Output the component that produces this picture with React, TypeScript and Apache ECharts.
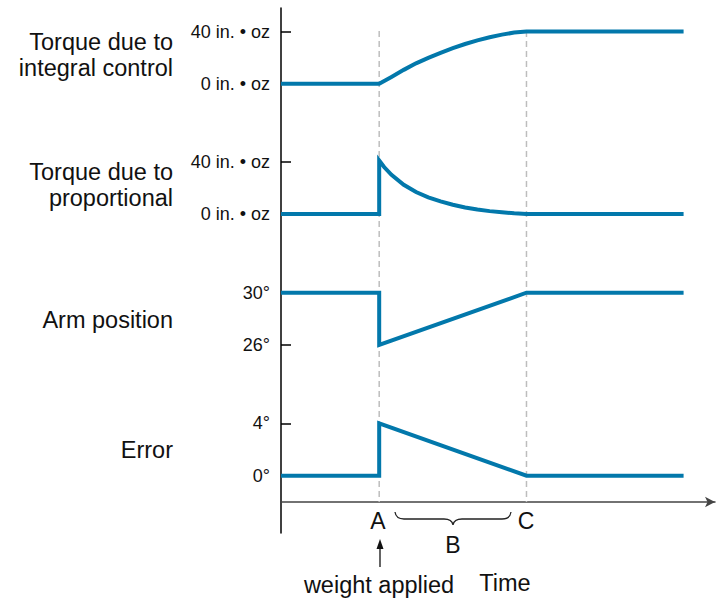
import React, { useEffect, useRef } from "react";
import * as echarts from "echarts";

// Shared time axis (arbitrary units): A = 2, C = 5
const timeMax = 8.84;
const eventA = 2;
const eventC = 5;

const integralTime = [0, 2, 2.25, 2.5, 2.75, 3.0, 3.25, 3.5, 3.75, 4.0, 4.25, 4.5, 4.75, 5.0, 8.2];
const integralTorque = [0, 0, 5.2, 10.6, 15.6, 19.8, 23.6, 27.2, 30.4, 33.2, 35.6, 37.6, 39.2, 40, 40];

const propTime = [0, 2, 2, 2.1, 2.25, 2.5, 2.75, 3.0, 3.25, 3.5, 3.75, 4.0, 4.25, 4.5, 4.75, 5.0, 8.2];
const propTorque = [0, 0, 41, 36, 30, 22.4, 16.8, 12.8, 9.7, 7.1, 5.0, 3.4, 2.2, 1.3, 0.5, 0, 0];

const armTime = [0, 2, 2, 5, 8.2];
const armPosition = [30, 30, 26, 30, 30];

const errorTime = [0, 2, 2, 5, 8.2];
const errorDeg = [0, 0, 4, 0, 0];

const torqueTicks = [0, 40];
const armTicks = [26, 30];
const errorTicks = [0, 4];

const panelLabels = [
  { text: "Torque due to\nintegral control", y: 55 },
  { text: "Torque due to\nproportional", y: 185 },
  { text: "Arm position", y: 320 },
  { text: "Error", y: 450 },
];

const BLUE = "#0278ab";
const FONT = "'Liberation Sans', Arial, Helvetica, sans-serif";

const zip = (xs: number[], ys: number[]) => xs.map((x, i) => [x, ys[i]]);

export default function App() {
  const ref = useRef<HTMLDivElement>(null);
  useEffect(() => {
    if (!ref.current) return;
    echarts.graphic.registerShape(
      "brace",
      echarts.graphic.extendPath(
        "M395,512 Q396,519 404,519 L444,519 Q452,519 453,525 Q454,519 462,519 L502,519 Q510,519 511,512",
        {}
      )
    );
    const chart = echarts.init(ref.current, null, { renderer: "svg" });

    const L = 281;
    const R = 2;
    const grids: any[] = [
      { top: 31.5, bottom: 83.7 },
      { top: 161.8, bottom: 214 },
      { top: 292.7, bottom: 345 },
      { top: 423.3, bottom: 475.7 },
    ].map((g) => ({
      left: L,
      right: R,
      top: g.top,
      height: g.bottom - g.top,
      containLabel: false,
      outerBoundsMode: "none",
    }));
    grids.push({
      left: L,
      right: R,
      top: 8,
      height: 525,
      containLabel: false,
      outerBoundsMode: "none",
    });

    const mkY = (idx: number, min: number, max: number, ticks: number[], fmt: (v: number) => string) => ({
      type: "value",
      gridIndex: idx,
      min,
      max,
      splitLine: { show: false },
      axisLine: { show: false },
      axisTick: {
        show: true,
        inside: true,
        length: 10,
        customValues: ticks,
        lineStyle: { color: "#000", width: 1.5 },
      },
      axisLabel: {
        show: true,
        customValues: ticks,
        formatter: fmt,
        margin: 11,
        fontSize: 18,
        color: "#111",
        fontFamily: FONT,
      },
    });

    const mkX = (idx: number) => ({
      type: "value",
      gridIndex: idx,
      min: 0,
      max: timeMax,
      show: false,
    });

    const torqueFmt = (v: number) => `${v} in. • oz`;
    const degFmt = (v: number) => `${v}°`;

    const lineSeries = (idx: number, xs: number[], ys: number[]) => ({
      type: "line",
      xAxisIndex: idx,
      yAxisIndex: idx,
      data: zip(xs, ys),
      showSymbol: false,
      symbol: "none",
      clip: false,
      z: 5,
      lineStyle: { color: BLUE, width: 4, join: "miter", cap: "butt" },
    });

    const dashSeries = (x: number) => ({
      type: "line",
      xAxisIndex: 4,
      yAxisIndex: 4,
      data: [
        [x, 471],
        [x, 0],
      ],
      symbol: "none",
      silent: true,
      z: 1,
      lineStyle: { color: "#bdbdbd", width: 1.5, type: [6, 4] },
    });

    const bigText = (text: string, x: number, y: number, size: number) => ({
      type: "text",
      x,
      y,
      style: { text, align: "center", verticalAlign: "middle", fontSize: size, fontFamily: FONT, fill: "#111" },
    });

    const option: any = {
      animation: false,
      grid: grids,
      xAxis: [
        mkX(0),
        mkX(1),
        mkX(2),
        mkX(3),
        {
          type: "value",
          gridIndex: 4,
          min: 0,
          max: timeMax,
          splitLine: { show: false },
          axisTick: { show: false },
          axisLabel: { show: false },
          axisLine: {
            show: true,
            onZero: true,
            symbol: ["none", "arrow"],
            symbolSize: [8, 10],
            lineStyle: { color: "#444", width: 1.5 },
          },
        },
      ],
      yAxis: [
        mkY(0, 0, 40, torqueTicks, torqueFmt),
        mkY(1, 0, 40, torqueTicks, torqueFmt),
        mkY(2, 26, 30, armTicks, degFmt),
        mkY(3, 0, 4, errorTicks, degFmt),
        {
          type: "value",
          gridIndex: 4,
          min: -31,
          max: 494,
          splitLine: { show: false },
          axisTick: { show: false },
          axisLabel: { show: false },
          axisLine: { show: true, onZero: false, lineStyle: { color: "#000", width: 1.5 } },
        },
      ],
      series: [
        dashSeries(eventA),
        dashSeries(eventC),
        lineSeries(0, integralTime, integralTorque),
        lineSeries(1, propTime, propTorque),
        lineSeries(2, armTime, armPosition),
        lineSeries(3, errorTime, errorDeg),
      ],
      graphic: [
        ...panelLabels.map((p) => ({
          type: "text",
          x: 173,
          y: p.y,
          style: {
            text: p.text,
            align: "right",
            verticalAlign: "middle",
            fontSize: 23.5,
            lineHeight: 26,
            fontFamily: FONT,
            fill: "#111",
          },
        })),
        bigText("A", 378, 521, 23),
        bigText("C", 526, 521, 23),
        bigText("B", 453, 545, 23),
        bigText("weight applied", 379, 585, 23.5),
        bigText("Time", 505, 583, 23.5),
        {
          type: "brace",
          x: 0,
          y: 0,
          style: { fill: "none", stroke: "#222", lineWidth: 1.3 },
        },
        {
          type: "line",
          shape: { x1: 380, y1: 567, x2: 380, y2: 547 },
          style: { stroke: "#111", lineWidth: 1.3 },
        },
        {
          type: "polygon",
          shape: { points: [[380, 539], [376.5, 549], [383.5, 549]] },
          style: { fill: "#111" },
        },
      ],
    };
    chart.setOption(option);
    return () => chart.dispose();
  }, []);
  return (
    <div
      ref={ref}
      style={{ position: "fixed", left: 0, top: 0, width: 717, height: 600, background: "#fff" }}
    />
  );
}
